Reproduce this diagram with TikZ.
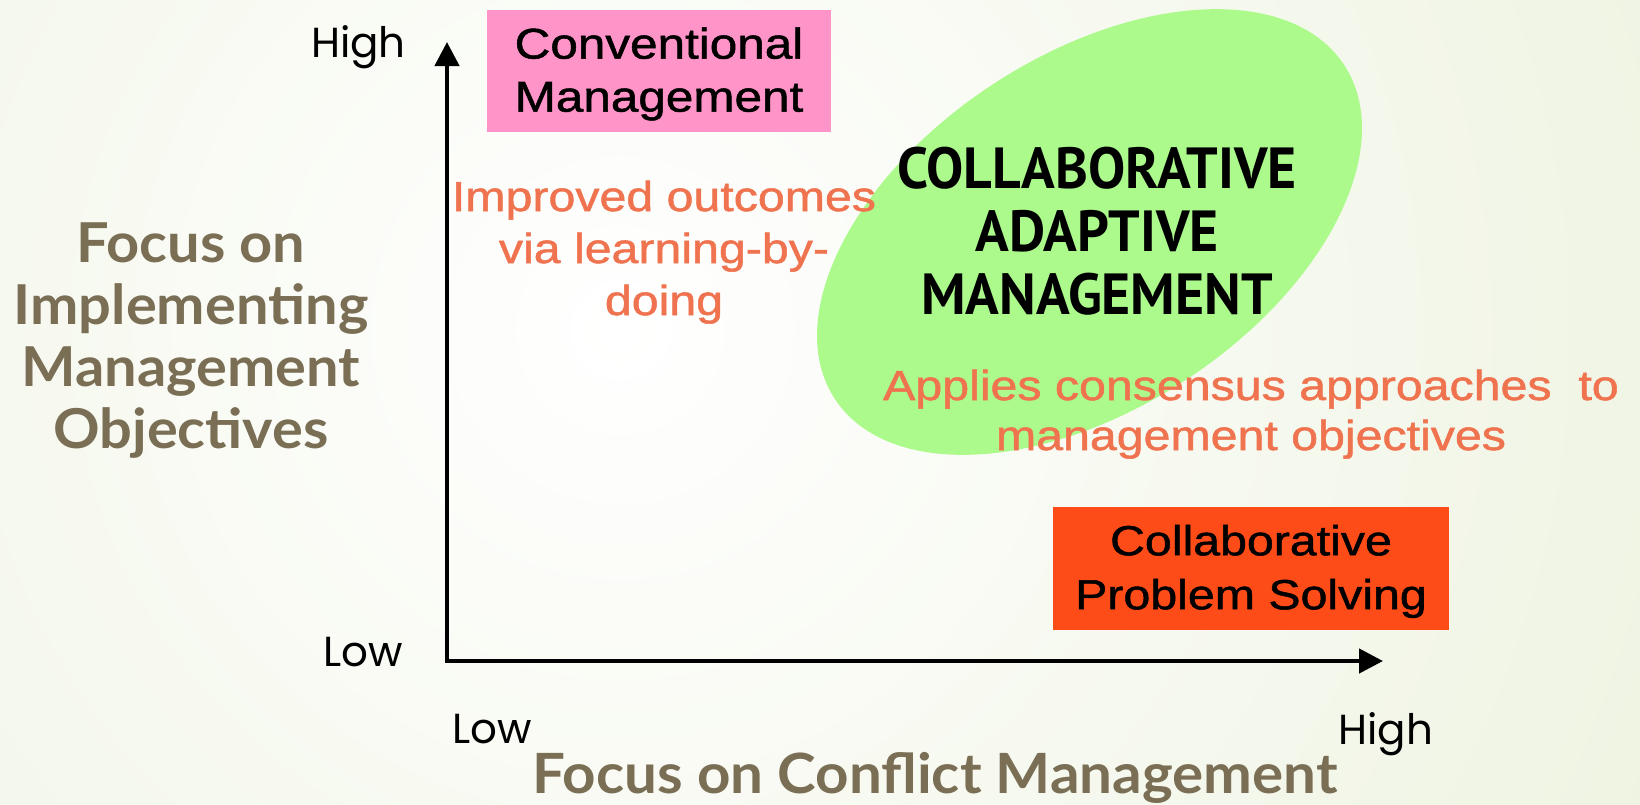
\documentclass[tikz,border=0pt]{standalone}
\usepackage{fontspec}
\usetikzlibrary{arrows.meta,shapes.geometric}

% Type faces
\newfontfamily\boxfont[FakeStretch=1.15,FakeBold=1.2]{Liberation Sans}
\newfontfamily\capsfont[FakeStretch=0.96]{PT Sans}
\newfontfamily\scalefont{Poppins}
\newfontfamily\axistitlefont[FakeStretch=1.05]{Lato}

% Palette
\definecolor{bggreen}{RGB}{222,232,196}
\definecolor{olivetext}{RGB}{122,110,85}
\definecolor{salmon}{RGB}{240,115,80}
\definecolor{pinkbox}{RGB}{255,148,200}
\definecolor{redbox}{RGB}{254,76,24}
\definecolor{camgreen}{RGB}{172,250,140}

\tikzset{
  axisline/.style={line width=4.5pt, line join=miter,
    {Triangle[length=24pt,width=24pt]}-{Triangle[length=24pt,width=24pt]}},
  scalelabel/.style={anchor=base, inner sep=0pt, font={\scalefont\fontsize{42}{50}\selectfont}},
  axistitle/.style={inner sep=0pt, align=center, text=olivetext,
    font={\axistitlefont\bfseries\fontsize{55}{62}\selectfont}},
  quadbox/.style={inner sep=0pt, align=center, text=black, text depth=3pt},
  note/.style={inner sep=0pt, align=center, text=salmon, anchor=base},
}

\begin{document}
\begin{tikzpicture}[x=1pt,y=1pt]
\useasboundingbox (0,0) rectangle (1640,-804);

% soft radial background
\begin{scope}
  \clip (0,0) rectangle (1640,-804);
  \fill[bggreen] (0,0) rectangle (1640,-804);
  \shade[inner color=white, outer color=bggreen] (620,-330) circle (2300);
\end{scope}

% collaborative adaptive management zone
\node[ellipse, fill=camgreen, minimum width=609pt, minimum height=353pt,
      inner sep=0pt, rotate=33.25] (camzone) at (1089.5,-232) {};

% axes
\coordinate (ytop) at (447,-42);
\coordinate (origin) at (447,-661);
\coordinate (xend) at (1383,-661);
\draw[axisline] (ytop) -- (origin) -- (xend);

% scale labels
\node[scalelabel, anchor=base east] (yhigh) at (406,-57) {High};
\node[scalelabel, anchor=base east] (ylow) at (403,-666) {Low};
\node[scalelabel, anchor=base west] (xlow) at (452,-743) {Low};
\node[scalelabel, anchor=base west] (xhigh) at (1338,-744) {High};

% axis titles (a multi-line node sits on the baseline of its last line)
\node[axistitle, anchor=base] (ytitle) at (191,-448)
  {Focus on\\Implementing\\Management\\Objectives};
\node[axistitle, anchor=base, font={\axistitlefont\bfseries\fontsize{55.5}{61}\selectfont}]
  (xtitle) at (935,-793) {Focus on Conflict Management};

% quadrant boxes
\node[quadbox, fill=pinkbox, minimum width=344pt, minimum height=122pt,
      font={\boxfont\fontsize{43}{53}\selectfont}] (conv) at (659,-71)
  {Conventional\\Management};
\node[quadbox, fill=redbox, minimum width=396pt, minimum height=123pt,
      font={\boxfont\fontsize{42}{54}\selectfont}] (cps) at (1251,-568.5)
  {Collaborative\\Problem Solving};

% zone title and notes
\node[inner sep=0pt, align=center, anchor=base,
      font={\capsfont\bfseries\fontsize{58}{63}\selectfont}] (camtitle) at (1097,-314)
  {COLLABORATIVE\\ADAPTIVE\\MANAGEMENT};
\node[note, font={\boxfont\fontsize{42}{52}\selectfont}] (learning) at (664,-315)
  {Improved outcomes\\via learning-by-\\doing};
\node[note, font={\boxfont\fontsize{42}{50}\selectfont}] (consensus) at (1251,-450)
  {Applies consensus approaches\ \ to\\management objectives};
\end{tikzpicture}
\end{document}
